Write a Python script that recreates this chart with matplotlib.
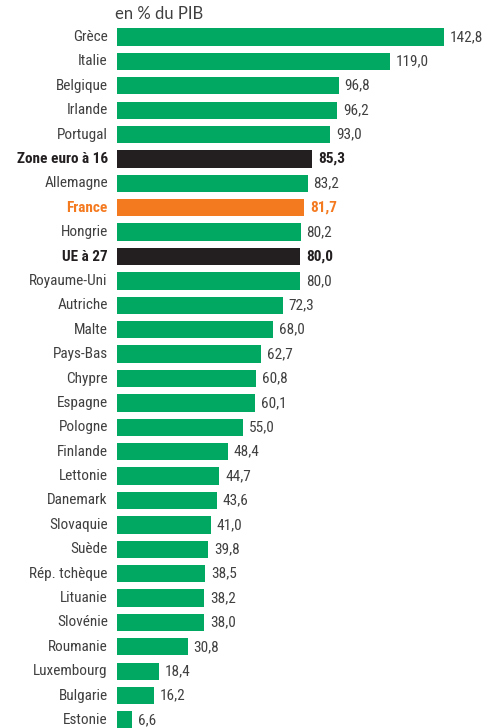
import matplotlib.pyplot as plt

pays = ['Grèce', 'Italie', 'Belgique', 'Irlande', 'Portugal', 'Zone euro à 16',
        'Allemagne', 'France', 'Hongrie', 'UE à 27', 'Royaume-Uni', 'Autriche',
        'Malte', 'Pays-Bas', 'Chypre', 'Espagne', 'Pologne', 'Finlande',
        'Lettonie', 'Danemark', 'Slovaquie', 'Suède', 'Rép. tchèque', 'Lituanie',
        'Slovénie', 'Roumanie', 'Luxembourg', 'Bulgarie', 'Estonie']
dette = [142.8, 119.0, 96.8, 96.2, 93.0, 85.3, 83.2, 81.7, 80.2, 80.0, 80.0,
         72.3, 68.0, 62.7, 60.8, 60.1, 55.0, 48.4, 44.7, 43.6, 41.0, 39.8,
         38.5, 38.2, 38.0, 30.8, 18.4, 16.2, 6.6]
agregats = ['Zone euro à 16', 'UE à 27']

vert = '#00A862'
orange = '#F47A20'
noir = '#231F20'
gris = '#404040'

plt.rcParams['font.family'] = ['Roboto Condensed', 'DejaVu Sans']

fig = plt.figure(figsize=(4.92, 7.28), dpi=100)
ax = fig.add_axes([117 / 492, 0, 1 - 117 / 492, 1])

n = len(pays)
pas = (720 - 37) / (n - 1)
ax.set_ylim(n - 1 + 8 / pas, -37 / pas)
ax.set_xlim(0, 375 / 2.29)

for i, (p, v) in enumerate(zip(pays, dette)):
    if p in agregats:
        c, tc, fw = noir, noir, 'bold'
    elif p == 'France':
        c, tc, fw = orange, orange, 'bold'
    else:
        c, tc, fw = vert, gris, 'normal'
    ax.barh(i, v, height=0.71, color=c)
    ax.text(v + 2.6, i, f'{v:.1f}'.replace('.', ','), va='center', ha='left',
            fontsize=11, color=tc, fontweight=fw)
    ax.text(-4, i, p, va='center', ha='right', fontsize=11, color=tc,
            fontweight=fw, clip_on=False)

ax.axis('off')
fig.text(115 / 492, 1 - 14 / 728, 'en % du PIB', ha='left', va='center',
         fontsize=12, color=gris, family=['Lato', 'DejaVu Sans'])

fig.savefig('out.png', dpi=100)
